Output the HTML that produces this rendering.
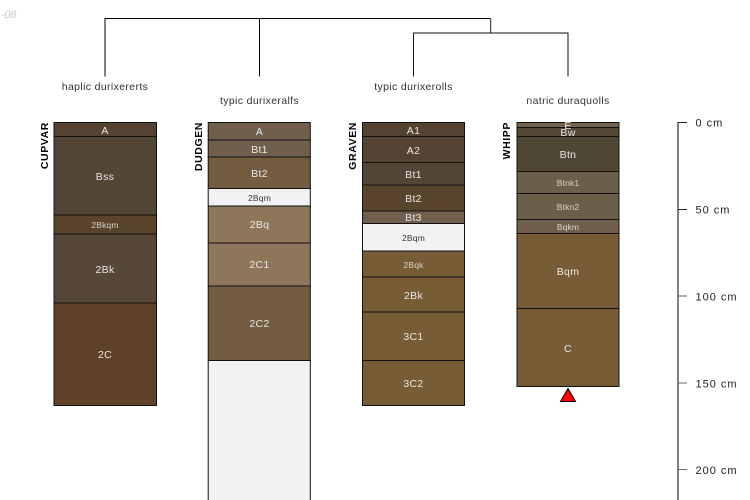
<!DOCTYPE html>
<html>
<head>
<meta charset="utf-8">
<style>
html,body{margin:0;padding:0;background:#fff;}
svg{display:block;}
text{font-family:"Liberation Sans",sans-serif;}
.l{font-size:10.5px;text-anchor:middle;fill:#e8e8e8;letter-spacing:.3px;}
.s{font-size:8.5px;text-anchor:middle;fill:#d8d4cc;letter-spacing:.15px;}
.d{font-size:8.5px;text-anchor:middle;fill:#333;letter-spacing:.2px;}
.t{font-size:10.5px;text-anchor:middle;fill:#333;letter-spacing:.36px;}
.n{font-size:10.5px;font-weight:bold;fill:#000;text-anchor:end;letter-spacing:.6px;}
.a{font-size:11px;fill:#222;letter-spacing:1px;}
.h rect{stroke:#111;stroke-width:1;}
</style>
</head>
<body>
<svg width="750" height="500" viewBox="0 0 750 500" xmlns="http://www.w3.org/2000/svg">
<text x="0.5" y="18" font-size="11" font-style="italic" fill="#c8c8c8">-08</text>

<g fill="none" stroke="#000" stroke-width="1">
<path d="M105 76.500V18.500H490.500"/>
<path d="M490.700 18.500V33" stroke="#222"/>
<path d="M259.500 76.500V18.500"/>
<path d="M413.500 76.500V33H568V76.500" stroke="#111"/>
</g>

<text class="t" x="105" y="90">haplic durixererts</text>
<text class="t" x="259.500" y="104">typic durixeralfs</text>
<text class="t" x="413.500" y="90">typic durixerolls</text>
<text class="t" x="568" y="104">natric duraquolls</text>

<text class="n" transform="translate(48,122) rotate(-90)">CUPVAR</text>
<text class="n" transform="translate(202,122) rotate(-90)">DUDGEN</text>
<text class="n" transform="translate(356,122) rotate(-90)">GRAVEN</text>
<text class="n" transform="translate(510,122) rotate(-90)">WHIPP</text>

<g class="h">
<rect x="54" y="122.500" width="102.500" height="14" fill="#544333"/>
<rect x="54" y="136.500" width="102.500" height="78.500" fill="#544636"/>
<rect x="54" y="215" width="102.500" height="19" fill="#58452c"/>
<rect x="54" y="234" width="102.500" height="69" fill="#574739"/>
<rect x="54" y="303" width="102.500" height="102.500" fill="#604228"/>

<rect x="208.200" y="122.500" width="102.100" height="17.500" fill="#6f5f4c"/>
<rect x="208.200" y="140" width="102.100" height="17" fill="#6f5f4c"/>
<rect x="208.200" y="157" width="102.100" height="31.500" fill="#745c40"/>
<rect x="208.200" y="188.500" width="102.100" height="17.500" fill="#f2f2f2"/>
<rect x="208.200" y="206" width="102.100" height="37" fill="#8d7659"/>
<rect x="208.200" y="243" width="102.100" height="43" fill="#8d7659"/>
<rect x="208.200" y="286" width="102.100" height="74.500" fill="#745c40"/>
<rect x="208.200" y="360.500" width="102.100" height="145" fill="#f2f2f2"/>

<rect x="362.500" y="122.500" width="102" height="14" fill="#544333"/>
<rect x="362.500" y="136.500" width="102" height="26" fill="#544333"/>
<rect x="362.500" y="162.500" width="102" height="22.500" fill="#544636"/>
<rect x="362.500" y="185" width="102" height="26" fill="#58452c"/>
<rect x="362.500" y="211" width="102" height="12.500" fill="#6f5f4c"/>
<rect x="362.500" y="223.500" width="102" height="27.500" fill="#f2f2f2"/>
<rect x="362.500" y="251" width="102" height="26" fill="#785c36"/>
<rect x="362.500" y="277" width="102" height="35" fill="#785c36"/>
<rect x="362.500" y="312" width="102" height="48.500" fill="#785c36"/>
<rect x="362.500" y="360.500" width="102" height="45" fill="#785c36"/>

<rect x="517" y="122.500" width="102" height="5" fill="#75624b"/>
<rect x="517" y="127.500" width="102" height="9" fill="#544836"/>
<rect x="517" y="136.500" width="102" height="35" fill="#504634"/>
<rect x="517" y="171.500" width="102" height="22" fill="#6c5f49"/>
<rect x="517" y="193.500" width="102" height="26" fill="#6c5f49"/>
<rect x="517" y="219.500" width="102" height="14" fill="#6f5f4c"/>
<rect x="517" y="233.500" width="102" height="75" fill="#785c36"/>
<rect x="517" y="308.500" width="102" height="78" fill="#785c36"/>
</g>

<text class="l" x="105" y="134">A</text>
<text class="l" x="105" y="180">Bss</text>
<text class="s" x="105" y="228">2Bkqm</text>
<text class="l" x="105" y="273">2Bk</text>
<text class="l" x="105" y="358">2C</text>

<text class="l" x="259.500" y="135">A</text>
<text class="l" x="259.500" y="153">Bt1</text>
<text class="l" x="259.500" y="177">Bt2</text>
<text class="d" x="259.500" y="201">2Bqm</text>
<text class="l" x="259.500" y="228">2Bq</text>
<text class="l" x="259.500" y="268">2C1</text>
<text class="l" x="259.500" y="327">2C2</text>

<text class="l" x="413.500" y="134">A1</text>
<text class="l" x="413.500" y="154">A2</text>
<text class="l" x="413.500" y="178">Bt1</text>
<text class="l" x="413.500" y="202">Bt2</text>
<text class="l" x="413.500" y="221">Bt3</text>
<text class="d" x="413.500" y="241">2Bqm</text>
<text class="s" x="413.500" y="268">2Bqk</text>
<text class="l" x="413.500" y="299">2Bk</text>
<text class="l" x="413.500" y="340">3C1</text>
<text class="l" x="413.500" y="387">3C2</text>

<text class="l" x="568" y="129">E</text>
<text class="l" x="568" y="136">Bw</text>
<text class="l" x="568" y="158">Btn</text>
<text class="s" x="568" y="186">Btnk1</text>
<text class="s" x="568" y="210">Btkn2</text>
<text class="s" x="568" y="230">Bqkm</text>
<text class="l" x="568" y="275">Bqm</text>
<text class="l" x="568" y="352">C</text>

<polygon points="568,388.500 560.500,401.500 575.500,401.500" fill="#ff0000" stroke="#000" stroke-width="1"/>

<g stroke="#666" stroke-width="1" fill="none">
<path d="M678 122V500" stroke="#808080" stroke-width="2"/>
<path d="M678 122.500H687" stroke="#222"/>
<path d="M678 209.500H687" stroke="#222"/>
<path d="M678 296H687M678 383H687M678 469.500H687"/>
</g>
<text class="a" x="695.500" y="126.500">0 cm</text>
<text class="a" x="695.500" y="213.500">50 cm</text>
<text class="a" x="695.500" y="300.500">100 cm</text>
<text class="a" x="695.500" y="387.500">150 cm</text>
<text class="a" x="695.500" y="474">200 cm</text>
</svg>
</body>
</html>
